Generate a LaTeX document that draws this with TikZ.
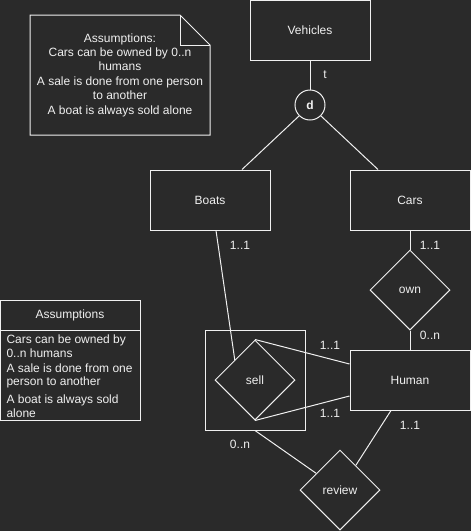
\documentclass[tikz,border=0pt]{standalone}
\usepackage{fontspec}
\setmainfont{Liberation Sans}
\usetikzlibrary{shapes.geometric}
\definecolor{bgdark}{HTML}{2A2A2A}
\definecolor{inkline}{HTML}{F0F0F0}
\tikzset{
    entity/.style={draw, rectangle, minimum width=120pt, minimum height=60pt, inner sep=0pt},
    relation/.style={draw, diamond, minimum width=80pt, minimum height=80pt, inner sep=0pt},
    card/.style={inner sep=0pt},
    subtype/.style={draw, circle, minimum size=30pt, inner sep=0pt, font=\fontsize{12}{14}\selectfont\bfseries}
}
\begin{document}
\begin{tikzpicture}[x=1pt, y=-1pt, line width=1pt, color=inkline,
    every node/.append style={font=\fontsize{12}{14.4}\selectfont}]
    \fill[bgdark] (0,0) rectangle (471,531);
    \useasboundingbox (0,0) rectangle (471,531);
    % note in the top left corner
    \draw (30,15) -- (180,15) -- (210,45) -- (210,135) -- (30,135) -- cycle;
    \draw (180,15) -- (180,45) -- (210,45);
    \node[align=center] (note) at (120,75) {Assumptions:\\Cars can be owned by 0..n\\humans\\A sale is done from one person\\to another\\A boat is always sold alone};
    % list of assumptions
    \draw (0,300) rectangle (140,420);
    \draw (0,330) -- (140,330);
    \node (listhead) at (70,315) {Assumptions};
    \node[anchor=west, align=left, inner sep=0pt, font=\fontsize{12}{13.5}\selectfont] (item1) at (6,346) {Cars can be owned by\\0..n humans};
    \node[anchor=west, align=left, inner sep=0pt, font=\fontsize{12}{13.5}\selectfont] (item2) at (6,376) {A sale is done from one\\person to another};
    \node[anchor=west, align=left, inner sep=0pt, font=\fontsize{12}{13.5}\selectfont] (item3) at (6,406) {A boat is always sold\\alone};
    % entities
    \node[entity] (vehicles) at (310,30) {Vehicles};
    \node[subtype] (d) at (310,105) {d};
    \node[entity] (boats) at (210,200) {Boats};
    \node[entity] (cars) at (410,200) {Cars};
    \node[relation] (own) at (410,290) {own};
    \node[entity] (human) at (410,380) {Human};
    \node[draw, minimum size=100pt, inner sep=0pt] (sellbox) at (255,380) {};
    \node[relation] (sell) at (255,380) {sell};
    \node[relation] (review) at (340,490) {review};
    % connectors
    \draw (vehicles) -- (d);
    \draw (d.south west) -- ([xshift=32pt]boats.north);
    \draw (d.south east) -- ([xshift=-32pt]cars.north);
    \draw (cars) -- (own);
    \draw (own) -- (human);
    \draw ([xshift=6pt]boats.south) -- (sell.north west);
    \draw (sell.north) -- ([yshift=16pt]human.west);
    \draw (sell.south) -- ([yshift=-16pt]human.west);
    \draw (sellbox.south) -- (review);
    \draw ([xshift=-19pt]human.south) -- (review);
    % labels
    \node[card] (lt) at (325,75) {t};
    \node[card] (lboats) at (240,245) {1..1};
    \node[card] (lcars) at (430,245) {1..1};
    \node[card] (lown) at (430,335) {0..n};
    \node[card] (lsellup) at (330,345) {1..1};
    \node[card] (lselldown) at (330,413) {1..1};
    \node[card] (lsellbox) at (240,444) {0..n};
    \node[card] (lhuman) at (410,425) {1..1};
\end{tikzpicture}
\end{document}
